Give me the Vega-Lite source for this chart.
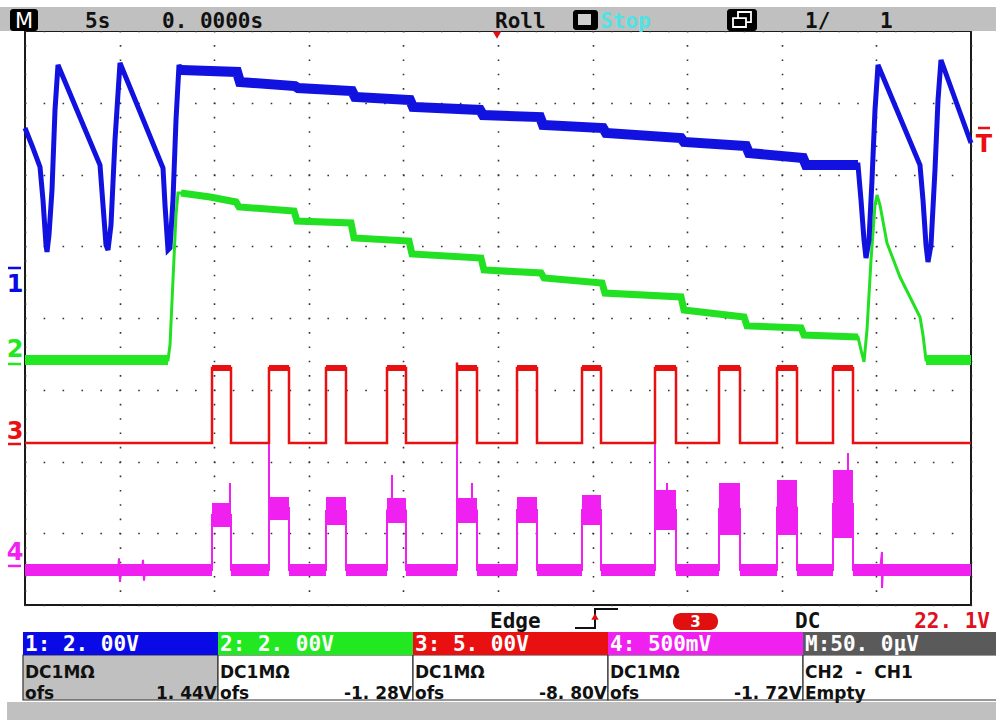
{
  "$schema": "https://vega.github.io/schema/vega-lite/v6.json",
  "width": 946,
  "height": 574,
  "autosize": {"type": "none"},
  "padding": {"left": 25, "top": 31, "right": 25, "bottom": 115},
  "background": "#ffffff",
  "config": {
    "view": {"stroke": "#1a1a1a", "strokeWidth": 2},
    "legend": {"disable": true},
    "axisX": {"grid": true, "tickCount": 10, "labels": false, "ticks": false, "domain": false, "titleOpacity": 0, "gridColor": "#333333", "gridWidth": 1.6, "gridDash": [1.6, 12.75], "gridDashOffset": 0.8},
    "axisY": {"grid": true, "tickCount": 8, "labels": false, "ticks": false, "domain": false, "titleOpacity": 0, "gridColor": "#333333", "gridWidth": 1.6, "gridDash": [1.6, 17.32], "gridDashOffset": 0.8}
  },
  "encoding": {
    "x": {"field": "t", "type": "quantitative", "title": null, "scale": {"domain": [-25, 25], "nice": false, "zero": false}},
    "y": {"field": "v", "type": "quantitative", "title": null, "scale": {"domain": [-4, 4], "nice": false, "zero": false}}
  },
  "layer": [
    {"data": {"values": [{"t": -26.4, "t2": 26.4, "v": 4.334, "v2": 4.0}]},
     "mark": {"type": "rect", "color": "#c0c0c0"},
     "encoding": {"x2": {"field": "t2"}, "y2": {"field": "v2"}}},
    {"data": {"values": [{"t": -25.95, "t2": 26.4, "v": -5.352, "v2": -5.65}]},
     "mark": {"type": "rect", "color": "#c0c0c0"},
     "encoding": {"x2": {"field": "t2"}, "y2": {"field": "v2"}}},
    {"data": {"values": [
      {"ch": "1", "t": -25.106, "t2": -14.799, "v": -4.697, "v2": -5.324},
      {"ch": "2", "t": -14.799, "t2": -4.493, "v": -4.697, "v2": -5.324},
      {"ch": "3", "t": -4.493, "t2": 5.814, "v": -4.697, "v2": -5.324},
      {"ch": "4", "t": 5.814, "t2": 16.121, "v": -4.697, "v2": -5.324},
      {"ch": "M", "t": 16.121, "t2": 26.4, "v": -4.697, "v2": -5.324}]},
     "mark": {"type": "rect", "stroke": "#333333", "strokeWidth": 1.2},
     "encoding": {"x2": {"field": "t2"}, "y2": {"field": "v2"},
       "fill": {"condition": {"test": "datum.ch === '1'", "value": "#c0c0c0"}, "value": "#ffffff"}}},
    {"data": {"values": [
      {"ch": "1", "t": -25.106, "t2": -14.799, "v": -4.376, "v2": -4.697},
      {"ch": "2", "t": -14.799, "t2": -4.493, "v": -4.376, "v2": -4.697},
      {"ch": "3", "t": -4.493, "t2": 5.814, "v": -4.376, "v2": -4.697},
      {"ch": "4", "t": 5.814, "t2": 16.121, "v": -4.376, "v2": -4.697},
      {"ch": "M", "t": 16.121, "t2": 26.4, "v": -4.376, "v2": -4.697}]},
     "mark": {"type": "rect"},
     "encoding": {"x2": {"field": "t2"}, "y2": {"field": "v2"},
       "color": {"field": "ch", "type": "nominal", "scale": {"domain": ["1", "2", "3", "4", "M"], "range": ["#0a0ae6", "#22e822", "#e81010", "#f020f0", "#5a5a5a"]}}}},
    {"data": {"name": "green"},
     "mark": {"type": "line", "color": "#22e022", "strokeWidth": 3},
     "encoding": {"order": {"value": null}}},
    {"data": {"name": "green"},
     "transform": [{"filter": {"field": "t", "range": [-16.8, 19.03]}}],
     "mark": {"type": "line", "color": "#22e022", "strokeWidth": 7},
     "encoding": {"order": {"value": null}}},
    {"data": {"name": "blue"},
     "mark": {"type": "line", "color": "#1212e0", "strokeWidth": 5},
     "encoding": {"order": {"value": null}}},
    {"data": {"name": "blue"},
     "transform": [{"filter": {"field": "t", "range": [-16.8, 19.03]}}],
     "mark": {"type": "line", "color": "#1212e0", "strokeWidth": 10},
     "encoding": {"order": {"value": null}}},
    {"data": {"name": "red"},
     "mark": {"type": "line", "color": "#e81010", "strokeWidth": 2.5},
     "encoding": {"order": {"value": null}}},
    {"data": {"name": "bands"},
     "mark": {"type": "rect"},
     "encoding": {"x2": {"field": "t2"}, "y2": {"field": "v2"},
       "color": {"field": "ch", "type": "nominal", "scale": {"domain": ["1", "2", "3", "4", "M"], "range": ["#0a0ae6", "#22e822", "#e81010", "#f020f0", "#5a5a5a"]}}}},
    {"data": {"name": "mag"},
     "mark": {"type": "line", "color": "#f020f0", "strokeWidth": 2},
     "encoding": {"order": {"value": null}}},
    {"data": {"values": [
      {"t": -25.793, "t2": -24.313, "v": 4.307, "v2": 4.0},
      {"t": 3.964, "t2": 5.285, "v": 4.293, "v2": 4.014},
      {"t": 12.104, "t2": 13.689, "v": 4.307, "v2": 4.0}]},
     "mark": {"type": "rect", "color": "#000000", "cornerRadius": 3},
     "encoding": {"x2": {"field": "t2"}, "y2": {"field": "v2"}}},
    {"data": {"values": [{"t": 4.228, "t2": 4.915, "v": 4.237, "v2": 4.084}]},
     "mark": {"type": "rect", "color": "#d0d0d0"},
     "encoding": {"x2": {"field": "t2"}, "y2": {"field": "v2"}}},
    {"data": {"values": [
      {"t": 12.685, "t2": 13.372, "v": 4.265, "v2": 4.125},
      {"t": 12.421, "t2": 13.108, "v": 4.18, "v2": 4.056}]},
     "mark": {"type": "rect", "fill": "#000000", "stroke": "#ffffff", "strokeWidth": 1.8},
     "encoding": {"x2": {"field": "t2"}, "y2": {"field": "v2"}}},
    {"data": {"values": [{"t": -0.053, "v": 3.944}]},
     "mark": {"type": "point", "shape": "triangle-down", "filled": true, "size": 70, "color": "#e01010", "opacity": 1}},
    {"data": {"values": [
      {"ch": "1", "t": -25.899, "t2": -25.211, "v": 0.697},
      {"ch": "2", "t": -25.899, "t2": -25.211, "v": -0.641},
      {"ch": "3", "t": -25.899, "t2": -25.211, "v": -1.756},
      {"ch": "4", "t": -25.899, "t2": -25.211, "v": -3.456},
      {"ch": "3", "t": 25.37, "t2": 26.004, "v": 2.648}]},
     "mark": {"type": "rule", "strokeWidth": 2.5},
     "encoding": {"x2": {"field": "t2"},
       "color": {"field": "ch", "type": "nominal", "scale": {"domain": ["1", "2", "3", "4", "M"], "range": ["#0a0ae6", "#22e822", "#e81010", "#f020f0", "#5a5a5a"]}}}},
    {"data": {"values": [
      {"ch": "1", "txt": "1", "t": -25.529, "v": 0.362},
      {"ch": "2", "txt": "2", "t": -25.529, "v": -0.544},
      {"ch": "3", "txt": "3", "t": -25.529, "v": -1.686},
      {"ch": "4", "txt": "4", "t": -25.529, "v": -3.373},
      {"ch": "3", "txt": "T", "t": 25.687, "v": 2.314}]},
     "mark": {"type": "text", "font": "DejaVu Sans", "fontWeight": "bold", "fontSize": 24, "align": "center", "baseline": "alphabetic"},
     "encoding": {"text": {"field": "txt"},
       "color": {"field": "ch", "type": "nominal", "scale": {"domain": ["1", "2", "3", "4", "M"], "range": ["#0a0ae6", "#22e822", "#e81010", "#f020f0", "#5a5a5a"]}}}},
    {"data": {"values": [
      {"txt": "5s", "t": -21.829, "v": 4.042},
      {"txt": "0. 0000s", "t": -17.759, "v": 4.042},
      {"txt": "Roll", "t": -0.159, "v": 4.042},
      {"txt": "1/", "t": 16.226, "v": 4.042},
      {"txt": "1", "t": 20.19, "v": 4.042}]},
     "mark": {"type": "text", "font": "DejaVu Sans Mono", "fontWeight": "bold", "fontSize": 21, "align": "left", "baseline": "alphabetic", "color": "#111111"},
     "encoding": {"text": {"field": "txt"}}},
    {"data": {"values": [{"txt": "Stop", "t": 5.391, "v": 4.042}]},
     "mark": {"type": "text", "font": "DejaVu Sans Mono", "fontWeight": "bold", "fontSize": 21, "align": "left", "baseline": "alphabetic", "color": "#4fe3e3"},
     "encoding": {"text": {"field": "txt"}}},
    {"data": {"values": [{"txt": "M", "t": -25.053, "v": 4.042}]},
     "mark": {"type": "text", "font": "DejaVu Sans", "fontWeight": "normal", "fontSize": 21, "align": "center", "baseline": "alphabetic", "color": "#ffffff"},
     "encoding": {"text": {"field": "txt"}}},
    {"data": {"values": [
      {"txt": "Edge", "t": -0.423, "v": -4.321},
      {"txt": "DC", "t": 15.698, "v": -4.321}]},
     "mark": {"type": "text", "font": "DejaVu Sans Mono", "fontWeight": "bold", "fontSize": 21, "align": "left", "baseline": "alphabetic", "color": "#111111"},
     "encoding": {"text": {"field": "txt"}}},
    {"data": {"values": [{"txt": "22. 1V", "t": 26.004, "v": -4.321}]},
     "mark": {"type": "text", "font": "DejaVu Sans Mono", "fontWeight": "bold", "fontSize": 21, "align": "right", "baseline": "alphabetic", "color": "#e01020"},
     "encoding": {"text": {"field": "txt"}}},
    {"data": {"values": [
      {"t": 4.07, "v": -4.321},
      {"t": 5.127, "v": -4.321},
      {"t": 5.127, "v": -4.056},
      {"t": 6.342, "v": -4.056}]},
     "mark": {"type": "line", "color": "#111111", "strokeWidth": 2},
     "encoding": {"order": {"value": null}}},
    {"data": {"values": [{"t": 5.127, "v": -4.16}]},
     "mark": {"type": "point", "shape": "triangle-up", "filled": true, "size": 55, "color": "#e01010", "opacity": 1}},
    {"data": {"values": [{"t": 9.249, "t2": 11.628, "v": -4.111, "v2": -4.348}]},
     "mark": {"type": "rect", "color": "#e01010", "cornerRadius": 8},
     "encoding": {"x2": {"field": "t2"}, "y2": {"field": "v2"}}},
    {"data": {"values": [{"txt": "3", "t": 10.438, "v": -4.3}]},
     "mark": {"type": "text", "font": "DejaVu Sans", "fontWeight": "bold", "fontSize": 15, "align": "center", "baseline": "alphabetic", "color": "#ffffff"},
     "encoding": {"text": {"field": "txt"}}},
    {"data": {"values": [
      {"txt": "1: 2. 00V", "t": -25.0, "v": -4.641},
      {"txt": "2: 2. 00V", "t": -14.693, "v": -4.641},
      {"txt": "3: 5. 00V", "t": -4.387, "v": -4.641},
      {"txt": "4: 500mV", "t": 5.92, "v": -4.641},
      {"txt": "M:50. 0μV", "t": 16.226, "v": -4.641}]},
     "mark": {"type": "text", "font": "DejaVu Sans Mono", "fontWeight": "bold", "fontSize": 21, "align": "left", "baseline": "alphabetic", "color": "#ffffff"},
     "encoding": {"text": {"field": "txt"}}},
    {"data": {"values": [
      {"txt": "DC1MΩ", "t": -25.0, "v": -5.017},
      {"txt": "DC1MΩ", "t": -14.693, "v": -5.017},
      {"txt": "DC1MΩ", "t": -4.387, "v": -5.017},
      {"txt": "DC1MΩ", "t": 5.92, "v": -5.017},
      {"txt": "CH2\u00a0\u00a0-\u00a0\u00a0CH1", "t": 16.226, "v": -5.017},
      {"txt": "ofs", "t": -25.0, "v": -5.31},
      {"txt": "ofs", "t": -14.693, "v": -5.31},
      {"txt": "ofs", "t": -4.387, "v": -5.31},
      {"txt": "ofs", "t": 5.92, "v": -5.31},
      {"txt": "Empty", "t": 16.226, "v": -5.31}]},
     "mark": {"type": "text", "font": "DejaVu Sans", "fontWeight": "bold", "fontSize": 17, "align": "left", "baseline": "alphabetic", "color": "#111111"},
     "encoding": {"text": {"field": "txt"}}},
    {"data": {"values": [
      {"txt": "1. 44V", "t": -14.852, "v": -5.31},
      {"txt": "-1. 28V", "t": -4.545, "v": -5.31},
      {"txt": "-8. 80V", "t": 5.761, "v": -5.31},
      {"txt": "-1. 72V", "t": 16.068, "v": -5.31}]},
     "mark": {"type": "text", "font": "DejaVu Sans", "fontWeight": "bold", "fontSize": 17, "align": "right", "baseline": "alphabetic", "color": "#111111"},
     "encoding": {"text": {"field": "txt"}}}
  ],
  "datasets": {
    "blue": [
      {"t": -25.0, "v": 2.648}, {"t": -24.577, "v": 2.369}, {"t": -24.207, "v": 2.105}, {"t": -24.049, "v": 1.645},
      {"t": -23.89, "v": 1.017}, {"t": -23.837, "v": 0.92}, {"t": -23.732, "v": 1.157}, {"t": -23.573, "v": 1.784},
      {"t": -23.414, "v": 2.899}, {"t": -23.256, "v": 3.526}, {"t": -21.036, "v": 2.132}, {"t": -20.877, "v": 1.575},
      {"t": -20.719, "v": 1.017}, {"t": -20.613, "v": 0.948}, {"t": -20.455, "v": 1.296}, {"t": -20.243, "v": 2.481},
      {"t": -19.979, "v": 3.554}, {"t": -17.706, "v": 2.091}, {"t": -17.6, "v": 1.575}, {"t": -17.442, "v": 0.948},
      {"t": -17.336, "v": 0.976}, {"t": -17.178, "v": 1.645}, {"t": -17.019, "v": 2.76}, {"t": -16.86, "v": 3.526},
      {"t": -16.755, "v": 3.456}, {"t": -13.795, "v": 3.429}, {"t": -13.636, "v": 3.289}, {"t": -10.729, "v": 3.233},
      {"t": -10.571, "v": 3.206}, {"t": -7.717, "v": 3.164}, {"t": -7.558, "v": 3.08}, {"t": -4.651, "v": 3.038},
      {"t": -4.493, "v": 2.941}, {"t": -0.951, "v": 2.899}, {"t": -0.793, "v": 2.829}, {"t": 2.22, "v": 2.801},
      {"t": 2.378, "v": 2.69}, {"t": 5.55, "v": 2.648}, {"t": 5.708, "v": 2.578}, {"t": 9.672, "v": 2.509},
      {"t": 9.831, "v": 2.453}, {"t": 13.108, "v": 2.397}, {"t": 13.266, "v": 2.3}, {"t": 16.121, "v": 2.23},
      {"t": 16.279, "v": 2.132}, {"t": 19.027, "v": 2.132}, {"t": 19.186, "v": 1.645}, {"t": 19.345, "v": 1.087},
      {"t": 19.45, "v": 0.836}, {"t": 19.609, "v": 1.087}, {"t": 19.767, "v": 1.923}, {"t": 19.926, "v": 2.899},
      {"t": 20.085, "v": 3.526}, {"t": 22.304, "v": 2.132}, {"t": 22.463, "v": 1.645}, {"t": 22.622, "v": 1.017},
      {"t": 22.727, "v": 0.78}, {"t": 22.886, "v": 1.017}, {"t": 23.097, "v": 2.063}, {"t": 23.256, "v": 3.038},
      {"t": 23.414, "v": 3.596}, {"t": 25.0, "v": 2.439}
    ],
    "green": [
      {"t": -25.0, "v": -0.585}, {"t": -17.442, "v": -0.585}, {"t": -17.336, "v": -0.376}, {"t": -17.178, "v": 0.53},
      {"t": -17.019, "v": 1.436}, {"t": -16.913, "v": 1.742}, {"t": -16.755, "v": 1.742}, {"t": -15.222, "v": 1.686},
      {"t": -13.848, "v": 1.617}, {"t": -13.689, "v": 1.547}, {"t": -10.782, "v": 1.491}, {"t": -10.624, "v": 1.352},
      {"t": -7.77, "v": 1.324}, {"t": -7.611, "v": 1.115}, {"t": -4.704, "v": 1.073}, {"t": -4.545, "v": 0.892},
      {"t": -0.899, "v": 0.836}, {"t": -0.74, "v": 0.669}, {"t": 2.273, "v": 0.627}, {"t": 2.431, "v": 0.557},
      {"t": 5.497, "v": 0.488}, {"t": 5.655, "v": 0.348}, {"t": 9.672, "v": 0.293}, {"t": 9.831, "v": 0.111},
      {"t": 13.002, "v": 0.014}, {"t": 13.161, "v": -0.111}, {"t": 16.015, "v": -0.139}, {"t": 16.173, "v": -0.237},
      {"t": 19.027, "v": -0.265}, {"t": 19.186, "v": -0.446}, {"t": 19.345, "v": -0.613}, {"t": 19.503, "v": -0.167},
      {"t": 19.715, "v": 0.808}, {"t": 19.926, "v": 1.575}, {"t": 20.032, "v": 1.714}, {"t": 20.19, "v": 1.575},
      {"t": 20.56, "v": 1.045}, {"t": 21.247, "v": 0.571}, {"t": 22.304, "v": 0.014}, {"t": 22.463, "v": -0.237},
      {"t": 22.622, "v": -0.585}, {"t": 25.0, "v": -0.585}
    ],
    "red": [
      {"t": -25.0, "v": -1.742},
      {"t": -15.116, "v": -1.742}, {"t": -15.116, "v": -0.697}, {"t": -14.112, "v": -0.697}, {"t": -14.112, "v": -1.742},
      {"t": -12.104, "v": -1.742}, {"t": -12.104, "v": -0.697}, {"t": -11.047, "v": -0.697}, {"t": -11.047, "v": -1.742},
      {"t": -9.091, "v": -1.742}, {"t": -9.091, "v": -0.697}, {"t": -8.034, "v": -0.697}, {"t": -8.034, "v": -1.742},
      {"t": -5.867, "v": -1.742}, {"t": -5.867, "v": -0.697}, {"t": -4.863, "v": -0.697}, {"t": -4.863, "v": -1.742},
      {"t": -2.167, "v": -1.742}, {"t": -2.167, "v": -0.62}, {"t": -2.167, "v": -0.697}, {"t": -1.11, "v": -0.697}, {"t": -1.11, "v": -1.742},
      {"t": 1.004, "v": -1.742}, {"t": 1.004, "v": -0.697}, {"t": 2.061, "v": -0.697}, {"t": 2.061, "v": -1.742},
      {"t": 4.44, "v": -1.742}, {"t": 4.44, "v": -0.697}, {"t": 5.444, "v": -0.697}, {"t": 5.444, "v": -1.742},
      {"t": 8.298, "v": -1.742}, {"t": 8.298, "v": -0.697}, {"t": 9.408, "v": -0.697}, {"t": 9.408, "v": -1.742},
      {"t": 11.681, "v": -1.742}, {"t": 11.681, "v": -0.697}, {"t": 12.791, "v": -0.697}, {"t": 12.791, "v": -1.742},
      {"t": 14.746, "v": -1.742}, {"t": 14.746, "v": -0.697}, {"t": 15.803, "v": -0.697}, {"t": 15.803, "v": -1.742},
      {"t": 17.706, "v": -1.742}, {"t": 17.706, "v": -0.697}, {"t": 18.763, "v": -0.697}, {"t": 18.763, "v": -1.742},
      {"t": 25.0, "v": -1.742}
    ],
    "mag": [
      {"t": -25.0, "v": -3.512},
      {"t": -20.085, "v": -3.512}, {"t": -20.032, "v": -3.35}, {"t": -19.979, "v": -3.68}, {"t": -19.926, "v": -3.512},
      {"t": -18.816, "v": -3.512}, {"t": -18.763, "v": -3.37}, {"t": -18.71, "v": -3.66}, {"t": -18.657, "v": -3.512},
      {"t": -15.116, "v": -3.512}, {"t": -15.116, "v": -2.746}, {"t": -14.165, "v": -2.746}, {"t": -14.165, "v": -2.3}, {"t": -14.165, "v": -2.746}, {"t": -14.112, "v": -2.746}, {"t": -14.112, "v": -3.512},
      {"t": -12.104, "v": -3.512}, {"t": -12.104, "v": -1.756}, {"t": -12.104, "v": -2.648}, {"t": -11.047, "v": -2.648}, {"t": -11.047, "v": -3.512},
      {"t": -9.091, "v": -3.512}, {"t": -9.091, "v": -2.69}, {"t": -8.034, "v": -2.69}, {"t": -8.034, "v": -3.512},
      {"t": -5.867, "v": -3.512}, {"t": -5.867, "v": -2.683}, {"t": -5.603, "v": -2.683}, {"t": -5.603, "v": -2.188}, {"t": -5.603, "v": -2.683}, {"t": -4.863, "v": -2.683}, {"t": -4.863, "v": -3.512},
      {"t": -2.167, "v": -3.512}, {"t": -2.167, "v": -1.756}, {"t": -2.167, "v": -2.683}, {"t": -1.374, "v": -2.683}, {"t": -1.374, "v": -2.3}, {"t": -1.374, "v": -2.683}, {"t": -1.11, "v": -2.683}, {"t": -1.11, "v": -3.512},
      {"t": 1.004, "v": -3.512}, {"t": 1.004, "v": -2.676}, {"t": 2.061, "v": -2.676}, {"t": 2.061, "v": -3.512},
      {"t": 4.44, "v": -3.512}, {"t": 4.44, "v": -2.676}, {"t": 5.444, "v": -2.676}, {"t": 5.444, "v": -3.512},
      {"t": 8.298, "v": -3.512}, {"t": 8.298, "v": -1.756}, {"t": 8.298, "v": -2.676}, {"t": 8.932, "v": -2.676}, {"t": 8.932, "v": -2.3}, {"t": 8.932, "v": -2.676}, {"t": 9.408, "v": -2.676}, {"t": 9.408, "v": -3.512},
      {"t": 11.681, "v": -3.512}, {"t": 11.681, "v": -2.662}, {"t": 12.791, "v": -2.662}, {"t": 12.791, "v": -3.512},
      {"t": 14.746, "v": -3.512}, {"t": 14.746, "v": -2.641}, {"t": 15.803, "v": -2.641}, {"t": 15.803, "v": -3.512},
      {"t": 17.706, "v": -3.512}, {"t": 17.706, "v": -2.592}, {"t": 18.499, "v": -2.592}, {"t": 18.499, "v": -1.882}, {"t": 18.499, "v": -2.592}, {"t": 18.763, "v": -2.592}, {"t": 18.763, "v": -3.512},
      {"t": 20.19, "v": -3.512}, {"t": 20.296, "v": -3.261}, {"t": 20.296, "v": -3.763}, {"t": 20.349, "v": -3.512},
      {"t": 25.0, "v": -3.512}
    ],
    "bands": [
      {"ch": "2", "t": -25.0, "t2": -17.442, "v": -0.516, "v2": -0.655},
      {"ch": "2", "t": 22.622, "t2": 25.0, "v": -0.516, "v2": -0.655},
      {"ch": "3", "t": -15.116, "t2": -14.112, "v": -0.655, "v2": -0.739},
      {"ch": "3", "t": -12.104, "t2": -11.047, "v": -0.655, "v2": -0.739},
      {"ch": "3", "t": -9.091, "t2": -8.034, "v": -0.655, "v2": -0.739},
      {"ch": "3", "t": -5.867, "t2": -4.863, "v": -0.655, "v2": -0.739},
      {"ch": "3", "t": -2.167, "t2": -1.11, "v": -0.655, "v2": -0.739},
      {"ch": "3", "t": 1.004, "t2": 2.061, "v": -0.655, "v2": -0.739},
      {"ch": "3", "t": 4.44, "t2": 5.444, "v": -0.655, "v2": -0.739},
      {"ch": "3", "t": 8.298, "t2": 9.408, "v": -0.655, "v2": -0.739},
      {"ch": "3", "t": 11.681, "t2": 12.791, "v": -0.655, "v2": -0.739},
      {"ch": "3", "t": 14.746, "t2": 15.803, "v": -0.655, "v2": -0.739},
      {"ch": "3", "t": 17.706, "t2": 18.763, "v": -0.655, "v2": -0.739},
      {"ch": "4", "t": -25.0, "t2": -15.116, "v": -3.429, "v2": -3.596},
      {"ch": "4", "t": -14.112, "t2": -12.104, "v": -3.429, "v2": -3.596},
      {"ch": "4", "t": -11.047, "t2": -9.091, "v": -3.429, "v2": -3.596},
      {"ch": "4", "t": -8.034, "t2": -5.867, "v": -3.429, "v2": -3.596},
      {"ch": "4", "t": -4.863, "t2": -2.167, "v": -3.429, "v2": -3.596},
      {"ch": "4", "t": -1.11, "t2": 1.004, "v": -3.429, "v2": -3.596},
      {"ch": "4", "t": 2.061, "t2": 4.44, "v": -3.429, "v2": -3.596},
      {"ch": "4", "t": 5.444, "t2": 8.298, "v": -3.429, "v2": -3.596},
      {"ch": "4", "t": 9.408, "t2": 11.681, "v": -3.429, "v2": -3.596},
      {"ch": "4", "t": 12.791, "t2": 14.746, "v": -3.429, "v2": -3.596},
      {"ch": "4", "t": 15.803, "t2": 17.706, "v": -3.429, "v2": -3.596},
      {"ch": "4", "t": 18.763, "t2": 25.0, "v": -3.429, "v2": -3.596},
      {"ch": "4", "t": -15.116, "t2": -14.112, "v": -2.578, "v2": -2.913},
      {"ch": "4", "t": -12.104, "t2": -11.047, "v": -2.495, "v2": -2.815},
      {"ch": "4", "t": -9.091, "t2": -8.034, "v": -2.495, "v2": -2.885},
      {"ch": "4", "t": -5.867, "t2": -4.863, "v": -2.509, "v2": -2.857},
      {"ch": "4", "t": -2.167, "t2": -1.11, "v": -2.509, "v2": -2.857},
      {"ch": "4", "t": 1.004, "t2": 2.061, "v": -2.495, "v2": -2.857},
      {"ch": "4", "t": 4.44, "t2": 5.444, "v": -2.467, "v2": -2.885},
      {"ch": "4", "t": 8.298, "t2": 9.408, "v": -2.397, "v2": -2.955},
      {"ch": "4", "t": 11.681, "t2": 12.791, "v": -2.3, "v2": -3.024},
      {"ch": "4", "t": 14.746, "t2": 15.803, "v": -2.258, "v2": -3.024},
      {"ch": "4", "t": 17.706, "t2": 18.763, "v": -2.118, "v2": -3.066}
    ]
  }
}
